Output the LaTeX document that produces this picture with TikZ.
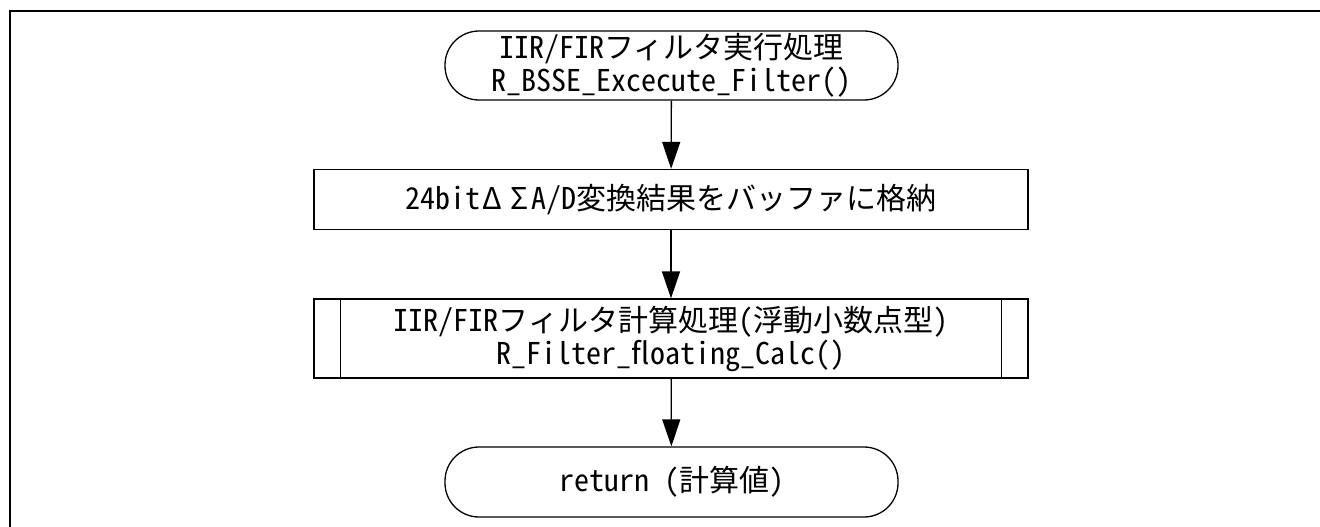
\documentclass[tikz,border=0pt]{standalone}
\usepackage{fontspec}
\setmainfont{Noto Sans CJK JP}
\newfontfamily\hw[RawFeature=+hwid]{Noto Sans CJK JP}
\usetikzlibrary{arrows.meta,calc}
\tikzset{
  x=1pt,y=-1pt,
  shp/.style={draw=black,line width=1.3pt,fill=white,align=center,inner sep=0pt,
    font=\fontsize{30}{33}\selectfont},
  term/.style={shp,minimum width=453pt,minimum height=69pt,rounded corners=34pt},
  proc/.style={shp,minimum width=714pt},
  flow/.style={draw=black,line width=1.3pt,-{Triangle[length=27pt,width=18pt]}},
}
\begin{document}
\begin{tikzpicture}
\useasboundingbox (0,0) rectangle (1320,527);
\draw[line width=2.2pt] (10,527) -- (10,11) -- (1320,11);
\node[term] (t1) at (671.5,65.5) {{\hw IIR/FIR}フィルタ実行処理\\{\hw R\_BSSE\_Excecute\_Filter()}};
\node[proc,minimum height=60pt] (b2) at (671,199.5) {{\hw 24bit}\hspace{2pt}Δ\hspace{9pt}Σ\hspace{3pt}{\hw A/D}変換結果をバッファに格納};
\node[proc,minimum height=79pt] (b3) at (671,338.5) {{\hw IIR/FIR}フィルタ計算処理{\hw (}浮動小数点型{\hw )}\\{\hw R\_Filter\_floating\_Calc()}};
\draw[line width=1.3pt] ($(b3.north west)+(27,0)$) -- ($(b3.south west)+(27,0)$);
\draw[line width=1.3pt] ($(b3.north east)+(-27,0)$) -- ($(b3.south east)+(-27,0)$);
\node[term,minimum height=70pt] (t2) at (671.5,482) {{\hw return (}計算値{\hw )}};
\draw[flow] (t1) -- (b2);
\draw[flow] (b2) -- (b3);
\draw[flow] (b3) -- (t2);
\end{tikzpicture}
\end{document}
